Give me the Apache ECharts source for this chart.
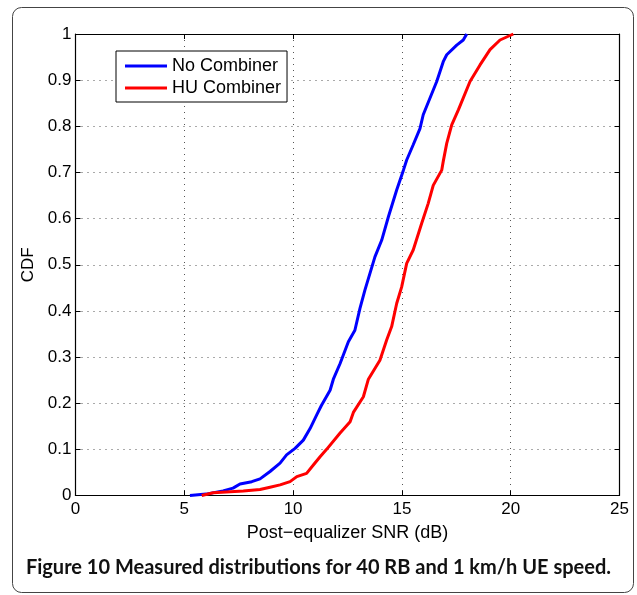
<!DOCTYPE html>
<html>
<head>
<meta charset="utf-8">
<script src="https://cdn.jsdelivr.net/npm/echarts@6/dist/echarts.min.js"></script>
<style>
html,body{margin:0;padding:0;background:#fff;}
#chart{width:637px;height:595px;}
</style>
</head>
<body>
<div id="chart"></div>
<script>
// ---- Data ----
const seriesNames = ['No Combiner', 'HU Combiner'];
const xTicks = [0, 5, 10, 15, 20, 25];
const yTicks = [0, 0.1, 0.2, 0.3, 0.4, 0.5, 0.6, 0.7, 0.8, 0.9, 1];

const snrNoComb = [5.26, 6.0, 6.78, 7.24, 7.56, 8.1, 8.48, 8.94, 9.4, 9.7, 10.09, 10.47, 10.78, 11.08, 11.3, 11.7, 11.85, 12.16, 12.54, 12.84, 13.07, 13.3, 13.76, 14.07, 14.38, 14.76, 15.07, 15.22, 15.52, 15.83, 15.98, 16.6, 16.9, 17.06, 17.52, 17.82, 17.98];
const cdfNoComb = [0, 0.003, 0.01, 0.016, 0.025, 0.03, 0.036, 0.052, 0.07, 0.088, 0.102, 0.12, 0.145, 0.174, 0.195, 0.228, 0.252, 0.286, 0.333, 0.358, 0.405, 0.445, 0.517, 0.553, 0.604, 0.662, 0.705, 0.727, 0.76, 0.795, 0.825, 0.897, 0.94, 0.955, 0.976, 0.987, 1.0];

const snrHU = [5.8, 6.33, 7.71, 8.48, 8.94, 9.4, 9.86, 10.17, 10.62, 10.93, 11.24, 11.54, 12.15, 12.62, 12.77, 13.23, 13.46, 13.99, 14.3, 14.53, 14.76, 14.99, 15.22, 15.52, 15.91, 16.21, 16.44, 16.83, 16.9, 17.06, 17.29, 17.6, 18.13, 18.59, 19.05, 19.51, 20.12];
const cdfHU = [0, 0.006, 0.01, 0.013, 0.018, 0.023, 0.03, 0.041, 0.048, 0.066, 0.084, 0.1, 0.135, 0.16, 0.18, 0.214, 0.252, 0.293, 0.337, 0.366, 0.416, 0.452, 0.503, 0.532, 0.59, 0.633, 0.672, 0.705, 0.724, 0.763, 0.803, 0.836, 0.897, 0.933, 0.966, 0.987, 1.0];

const captionBold = 'Figure 10';
const captionRest = ' Measured distributions for 40 RB and 1 km/h UE speed.';
// ------------------------------------------------

function zip(a, b) { return a.map((v, i) => [v, b[i]]); }

const FONT = '"Liberation Sans", Arial, Helvetica, sans-serif';
const gridDot = { show: true, lineStyle: { color: '#555', width: 1, type: [1, 5] } };
const axLine = { show: true, onZero: false, lineStyle: { color: '#000', width: 1.2 } };
const tick = { show: true, inside: true, length: 5, lineStyle: { color: '#000', width: 1 } };

const chart = echarts.init(document.getElementById('chart'), null, { renderer: 'canvas' });
chart.setOption({
  backgroundColor: '#fff',
  animation: false,
  graphic: [
    { type: 'rect', shape: { x: 12.5, y: 7.5, width: 621, height: 585, r: 9 },
      style: { fill: 'none', stroke: '#444', lineWidth: 1 }, z: -10 },
    { type: 'text', left: 'center', top: 558,
      style: { text: '{b|' + captionBold + '}{r|' + captionRest + '}',
        rich: {
          b: { fontFamily: 'Lato, sans-serif', fontWeight: 'bold', fontSize: 20, fill: '#111' },
          r: { fontFamily: 'Lato, sans-serif', fontWeight: 'bold', fontSize: 20, fill: '#111' }
        } } }
  ],
  grid: { left: 75.5, right: 17.5, top: 34, bottom: 99.5, containLabel: false },
  legend: {
    orient: 'vertical', left: 116, top: 51,
    data: seriesNames,
    icon: 'rect', itemWidth: 42, itemHeight: 3, itemGap: 4,
    padding: [6, 6, 5, 9],
    backgroundColor: '#fff', borderColor: '#000', borderWidth: 1,
    textStyle: { fontFamily: FONT, fontSize: 18, color: '#000', lineHeight: 18 }
  },
  xAxis: [
    { type: 'value', min: xTicks[0], max: xTicks[xTicks.length - 1], interval: 5, position: 'bottom',
      name: 'Post\u2212equalizer SNR (dB)', nameLocation: 'middle', nameGap: 29,
      nameTextStyle: { fontFamily: FONT, fontSize: 18, color: '#000' },
      axisLine: axLine, axisTick: tick, splitLine: gridDot,
      axisLabel: { fontFamily: FONT, fontSize: 17, color: '#000', margin: 5 } },
    { type: 'value', min: xTicks[0], max: xTicks[xTicks.length - 1], interval: 5, position: 'top',
      axisLine: axLine, axisTick: tick, splitLine: { show: false }, axisLabel: { show: false } }
  ],
  yAxis: [
    { type: 'value', min: 0, max: 1, interval: 0.1, position: 'left',
      name: 'CDF', nameLocation: 'middle', nameGap: 37,
      nameTextStyle: { fontFamily: FONT, fontSize: 17, color: '#000' },
      axisLine: axLine, axisTick: tick, splitLine: gridDot,
      axisLabel: { fontFamily: FONT, fontSize: 17, color: '#000', margin: 4,
        formatter: v => (v === 0 ? '0' : v === 1 ? '1' : v.toFixed(1)) } },
    { type: 'value', min: 0, max: 1, interval: 0.1, position: 'right',
      axisLine: axLine, axisTick: tick, splitLine: { show: false }, axisLabel: { show: false } }
  ],
  series: [
    { name: seriesNames[0], type: 'line', data: zip(snrNoComb, cdfNoComb), showSymbol: false,
      color: '#0000ff', lineStyle: { color: '#0000ff', width: 3 }, clip: false },
    { name: seriesNames[1], type: 'line', data: zip(snrHU, cdfHU), showSymbol: false,
      color: '#ff0000', lineStyle: { color: '#ff0000', width: 3 }, clip: false }
  ]
});
</script>
</body>
</html>
